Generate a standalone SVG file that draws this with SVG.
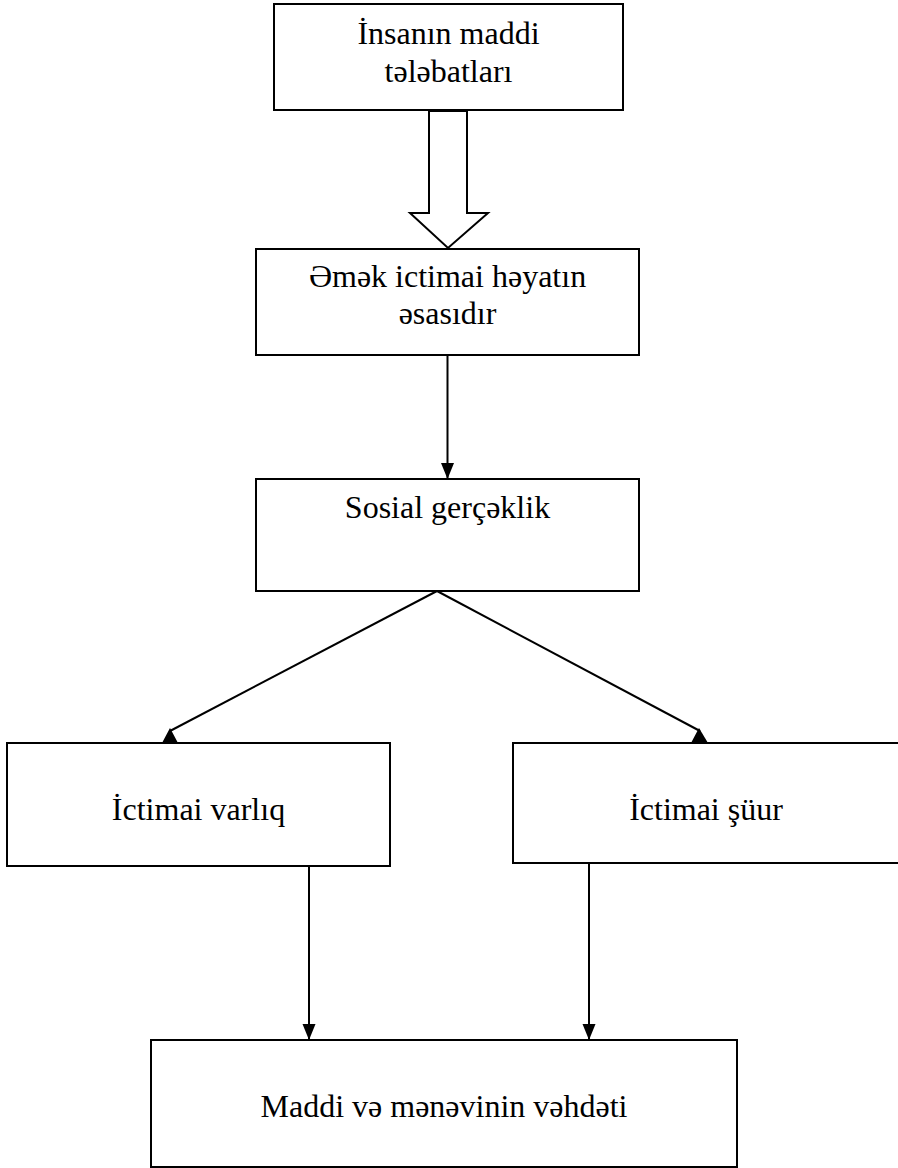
<svg xmlns="http://www.w3.org/2000/svg" width="898" height="1168" viewBox="0 0 898 1168">
<defs>
<style>
.box{fill:#fff;stroke:#000;stroke-width:2}
.t{font-family:"Liberation Serif","Times New Roman",serif;font-size:32px;fill:#000;text-anchor:middle}
.ln{stroke:#000;stroke-width:2;fill:none}
.hd{fill:#000;stroke:none}
</style>
<marker id="ah" markerUnits="userSpaceOnUse" markerWidth="16" markerHeight="14" refX="16" refY="7" orient="auto">
<path d="M0,0.5 L16,7 L0,13.5 z" fill="#000"/>
</marker>
</defs>
<rect width="898" height="1168" fill="#fff"/>
<g id="connectors">
<polygon class="ln" points="429,111 467,111 467,213 488,213 448,248 410,213 429,213" fill="#fff"/>
<line class="ln" x1="447.5" y1="355" x2="447.5" y2="479" marker-end="url(#ah)"/>
<line class="ln" x1="437" y1="591" x2="170" y2="731"/>
<line class="ln" x1="437" y1="591" x2="700" y2="731"/>
<polygon class="hd" points="162,743 178,743 170,728"/>
<polygon class="hd" points="691,743 708,743 699,728"/>
<line class="ln" x1="309" y1="866" x2="309" y2="1040" marker-end="url(#ah)"/>
<line class="ln" x1="589" y1="863" x2="589" y2="1040" marker-end="url(#ah)"/>
</g>
<g id="n1">
<rect class="box" x="274" y="4" width="349" height="106"/>
<text class="t" x="448.5" y="44">İnsanın maddi</text>
<text class="t" x="448.5" y="82">tələbatları</text>
</g>
<g id="n2">
<rect class="box" x="256" y="249" width="383" height="106"/>
<text class="t" x="447.5" y="287">Əmək ictimai həyatın</text>
<text class="t" x="447.5" y="324">əsasıdır</text>
</g>
<g id="n3">
<rect class="box" x="256" y="479" width="383" height="112"/>
<text class="t" x="447.5" y="518">Sosial gerçəklik</text>
</g>
<g id="n4">
<rect class="box" x="7" y="743" width="383" height="123"/>
<text class="t" x="198.5" y="820">İctimai varlıq</text>
</g>
<g id="n5">
<rect class="box" x="513" y="743" width="387" height="120"/>
<text class="t" x="706" y="820">İctimai şüur</text>
</g>
<g id="n6">
<rect class="box" x="151" y="1040" width="586" height="127"/>
<text class="t" x="444" y="1117">Maddi və mənəvinin vəhdəti</text>
</g>
</svg>
